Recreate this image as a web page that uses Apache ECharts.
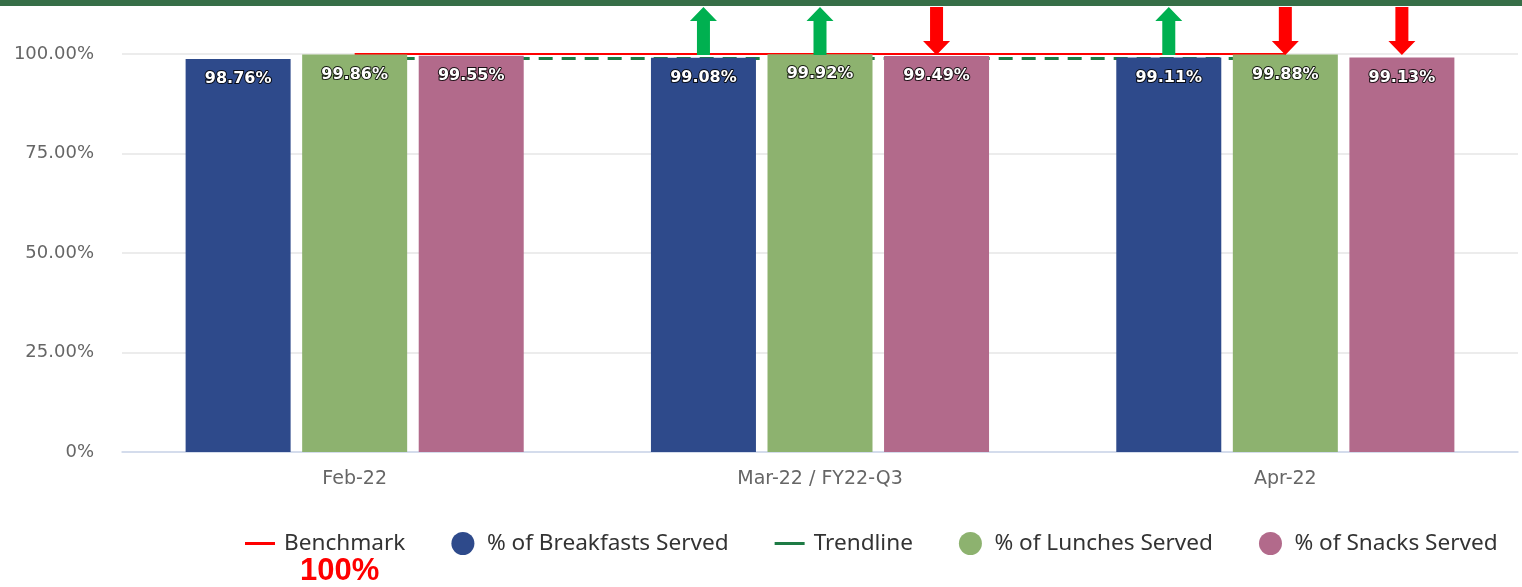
<!DOCTYPE html>
<html>
<head>
<meta charset="utf-8">
<script src="https://cdn.jsdelivr.net/npm/echarts@6/dist/echarts.min.js"></script>
<style>
html, body { margin: 0; padding: 0; background: #fff; }
#main { width: 1522px; height: 587px; }
</style>
</head>
<body>
<div id="main"></div>
<script>
// data
var categories = ['Feb-22', 'Mar-22 / FY22-Q3', 'Apr-22']
var breakfasts = [98.76, 99.08, 99.11]
var lunches = [99.86, 99.92, 99.88]
var snacks = [99.55, 99.49, 99.13]
var benchmark = [100, 100, 100]
var trendline = [98.9, 98.9, 98.9]
// change arrows above each bar: 1 up, -1 down, 0 none
var breakfastArrows = [0, 1, 1]
var lunchArrows = [0, 1, -1]
var snackArrows = [0, -1, -1]
var yTicks = [0, 25, 50, 75, 100]

var UP = 'path://M13.5,0 L27,14 L20,14 L20,48 L7,48 L7,14 L0,14 Z'
var DOWN = 'path://M7,0 L20,0 L20,34 L27,34 L13.5,48 L0,34 L7,34 Z'

function arrows(dirs) {
  var out = []
  dirs.forEach(function (d, i) {
    if (!d) return
    out.push({
      coord: [categories[i], 100],
      symbol: d > 0 ? UP : DOWN,
      itemStyle: { color: d > 0 ? '#00b050' : '#ff0000' }
    })
  })
  return {
    symbolSize: [27, 48],
    symbolOffset: [0, -23],
    label: { show: false },
    silent: true,
    animation: false,
    data: out
  }
}

var barLabel = {
  show: true,
  position: 'insideTop',
  distance: 12,
  color: '#fff',
  fontFamily: 'DejaVu Sans',
  fontWeight: 'bold',
  fontSize: 16,
  textBorderColor: 'rgba(0,0,0,0.85)',
  textBorderWidth: 2,
  formatter: function (p) { return p.value.toFixed(2) + '%' }
}

function barSeries(name, values, color, dirs) {
  return {
    name: name,
    type: 'bar',
    data: values,
    barWidth: 105,
    barGap: '11%',
    itemStyle: { color: color },
    label: barLabel,
    markPoint: arrows(dirs),
    z: 3
  }
}

var LINE_ICON = 'path://M0,0 L30,0 L30,3 L0,3 Z'

var chart = echarts.init(document.getElementById('main'))
chart.setOption({
  animation: false,
  grid: { left: 122, right: 4, top: 54, bottom: 135 },
  legend: {
    top: 527,
    left: 240,
    itemWidth: 30,
    itemHeight: 23,
    itemGap: 46,
    textStyle: { fontFamily: 'Noto Sans', fontSize: 22.6, color: '#333', padding: [0, 0, 0, 4] },
    data: [
      { name: 'Benchmark', icon: LINE_ICON },
      { name: '% of Breakfasts Served', icon: 'circle' },
      { name: 'Trendline', icon: LINE_ICON },
      { name: '% of Lunches Served', icon: 'circle' },
      { name: '% of Snacks Served', icon: 'circle' }
    ]
  },
  xAxis: {
    type: 'category',
    data: categories,
    axisLine: { lineStyle: { color: '#ccd6eb', width: 1.5 } },
    axisTick: { show: false },
    axisLabel: { color: '#666', fontFamily: 'DejaVu Sans', fontSize: 19, margin: 18 }
  },
  yAxis: {
    type: 'value',
    min: yTicks[0],
    max: yTicks[yTicks.length - 1],
    interval: 25,
    splitLine: { lineStyle: { color: '#e6e6e6', width: 1.5 } },
    axisLabel: {
      color: '#666',
      fontFamily: 'DejaVu Sans',
      fontSize: 18,
      margin: 28,
      formatter: function (v) { return v === 0 ? '0%' : v.toFixed(2) + '%' }
    }
  },
  series: [
    {
      name: 'Benchmark',
      type: 'line',
      data: benchmark,
      symbol: 'none',
      lineStyle: { color: '#ff0000', width: 2 },
      itemStyle: { color: '#ff0000' },
      z: 1
    },
    {
      name: 'Trendline',
      type: 'line',
      data: trendline,
      symbol: 'none',
      lineStyle: { color: '#1e7b45', width: 3, type: [14, 9] },
      itemStyle: { color: '#1e7b45' },
      z: 1
    },
    barSeries('% of Breakfasts Served', breakfasts, '#2e4a8b', breakfastArrows),
    barSeries('% of Lunches Served', lunches, '#8db26f', lunchArrows),
    barSeries('% of Snacks Served', snacks, '#b26a8b', snackArrows)
  ],
  graphic: [
    { type: 'rect', left: 0, top: 0, shape: { width: 1522, height: 6 }, style: { fill: '#376e47' } },
    { type: 'text', left: 300, top: 556, style: { text: '100%', fill: '#ff0000', font: 'bold 31px "Liberation Sans"' } }
  ]
})
</script>
</body>
</html>
